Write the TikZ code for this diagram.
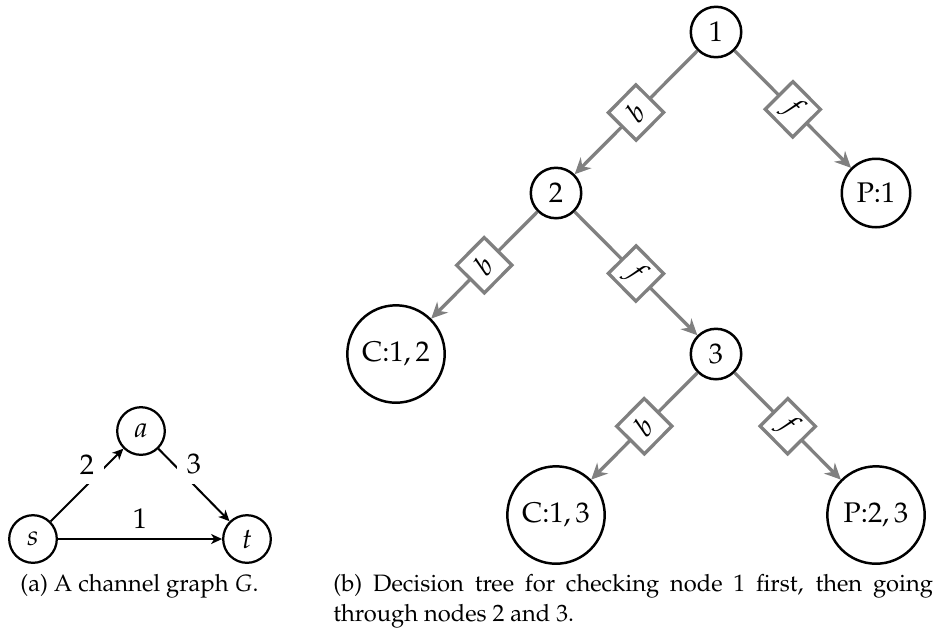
\documentclass[tikz,border=0pt]{standalone}
\usepackage[T1]{fontenc}
\usepackage{mathpazo}
\usetikzlibrary{arrows.meta}

\definecolor{edgegray}{RGB}{128,128,128}

\tikzset{
  % one unit = one pixel of the final drawing, y pointing down
  x=0.422pt, y=-0.422pt,
  nodefont/.style={font=\fontsize{12}{14}\selectfont},
  capfont/.style={font=\fontsize{10}{12.5}\selectfont},
  vertex/.style={circle, draw, line width=0.95pt, inner sep=0pt, minimum size=20.1pt, nodefont},
  plainarrow/.style={line width=0.85pt, -{Stealth[length=4.6pt, width=4.2pt, inset=1.3pt]}},
  edgelabel/.style={nodefont, inner sep=4pt},
  tnode/.style={circle, draw, line width=1.05pt, inner sep=0pt, minimum size=#1, nodefont},
  tnode/.default=21.3pt,
  treeedge/.style={draw=edgegray, line width=1.4pt,
    -{Stealth[length=6.8pt, width=6.4pt, inset=2.2pt]}},
  choice/.style={rectangle, draw=edgegray, fill=white, line width=1.4pt,
    minimum size=16.5pt, inner sep=0pt, sloped, midway, nodefont},
}

\begin{document}
\begin{tikzpicture}
  \useasboundingbox (0,0) rectangle (937,632);

  % ---- (a) channel graph ----
  \node[vertex] (s) at (33,539) {$s$};
  \node[vertex] (a) at (141,431) {$a$};
  \node[vertex] (t) at (247,539) {$t$};

  \draw[plainarrow] (s) -- node[edgelabel, above, fill=white] {2} (a);
  \draw[plainarrow] (a) -- node[edgelabel, above, fill=white] {3} (t);
  \draw[plainarrow] (s) -- node[edgelabel, above] {1} (t);

  \node[capfont, anchor=base] (capa) at (139.5,591) {(a) A channel graph $G$.};

  % ---- (b) decision tree ----
  \node[tnode] (n1) at (716,32) {1};
  \node[tnode] (n2) at (556,193) {2};
  \node[tnode=28.9pt] (p1) at (876,193) {P:1};
  \node[tnode=41.1pt] (c12) at (396,354) {C:$1,2$};
  \node[tnode] (n3) at (716,354) {3};
  \node[tnode=41.1pt] (c13) at (556,515) {C:$1,3$};
  \node[tnode=41.1pt] (p23) at (876,515) {P:$2,3$};

  \draw[treeedge] (n1) -- node[choice] {$b$} (n2);
  \draw[treeedge] (n1) -- node[choice] {$f$} (p1);
  \draw[treeedge] (n2) -- node[choice] {$b$} (c12);
  \draw[treeedge] (n2) -- node[choice] {$f$} (n3);
  \draw[treeedge] (n3) -- node[choice] {$b$} (c13);
  \draw[treeedge] (n3) -- node[choice] {$f$} (p23);

  \node[capfont, anchor=base west, inner sep=0pt] (capb1) at (333,591)
    {\makebox[253pt][s]{(b) Decision tree for checking node 1 first, then going}};
  \node[capfont, anchor=base west, inner sep=0pt] (capb2) at (333,621)
    {through nodes 2 and 3.};
\end{tikzpicture}
\end{document}
